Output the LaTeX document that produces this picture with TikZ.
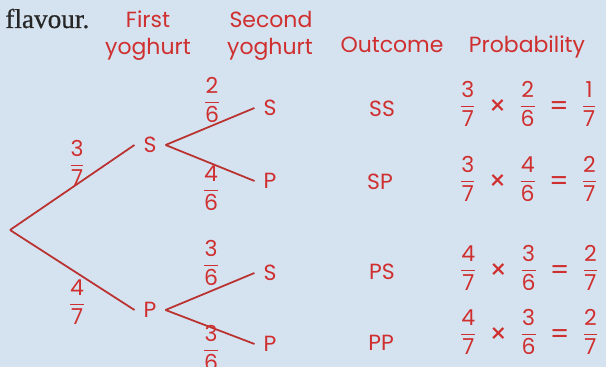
\documentclass[tikz,border=0pt]{standalone}
\usepackage{fontspec}
\setmainfont{Poppins}
\newfontfamily\bookfont[FakeBold=0.6]{Liberation Serif}
\definecolor{paper}{HTML}{D5E2F0}
\definecolor{ink}{HTML}{CF2F2E}
\definecolor{branch}{HTML}{BA3230}
\newcommand{\fr}[2]{$\displaystyle\frac{\mbox{#1}}{\mbox{#2}}$}
\newcommand{\op}[1]{\raisebox{-0.3ex}{\fontsize{15.5}{16}\selectfont #1}}
\newcommand{\prob}[3]{#1\hspace{7pt}\op{×}\hspace{7pt}#2\hspace{7pt}\op{=}\hspace{7pt}#3}

\begin{document}
\begin{tikzpicture}[x=0.02cm, y=-0.02cm,
  lbl/.style={text=ink, font=\fontsize{12.5}{15}\selectfont, inner sep=0pt},
  leaf/.style={lbl, inner sep=5pt},
  branchline/.style={draw=branch, line width=1pt}]
  % Paper
  \fill[paper] (0,0) rectangle (606,367);
  \useasboundingbox (0,0) rectangle (606,367);

  \node[anchor=base west, inner sep=0pt, text=black!85,
        font=\bookfont\fontsize{15.5}{18}\selectfont] (flav) at (5,28) {flavour.};

  % Column heads
  \node[lbl, anchor=base] (first) at (148,28) {First};
  \node[lbl, anchor=base] (firsty) at (148,55) {yoghurt};
  \node[lbl, anchor=base] (second) at (271,28) {Second};
  \node[lbl, anchor=base] (secondy) at (270,55) {yoghurt};
  \node[lbl, anchor=base] (outhead) at (392,53) {Outcome};
  \node[lbl, anchor=base] (probhead) at (527,53) {Probability};

  % Tree
  \coordinate (root) at (10,230);
  \node[leaf] (s1) at (150,145) {S};
  \node[leaf] (p1) at (150,310) {P};
  \node[leaf] (ss) at (270,108) {S};
  \node[leaf] (sp) at (270,181) {P};
  \node[leaf] (ps) at (270,273) {S};
  \node[leaf] (pp) at (270,344) {P};

  \draw[branchline] (root) -- (s1.west);
  \draw[branchline] (root) -- (p1.west);
  \draw[branchline] (s1.east) -- (ss.west);
  \draw[branchline] (s1.east) -- (sp.west);
  \draw[branchline] (p1.east) -- (ps.west);
  \draw[branchline] (p1.east) -- (pp.west);

  % Branch probabilities
  \node[lbl] (fs1) at (77,163) {\fr{3}{7}};
  \node[lbl] (fp1) at (77,302) {\fr{4}{7}};
  \node[lbl] (fss) at (212,100) {\fr{2}{6}};
  \node[lbl] (fsp) at (211,188) {\fr{4}{6}};
  \node[lbl] (fps) at (211,263) {\fr{3}{6}};
  \node[lbl] (fpp) at (211,348) {\fr{3}{6}};

  % Outcomes
  \node[lbl] (oss) at (382,109) {SS};
  \node[lbl] (osp) at (380,182) {SP};
  \node[lbl] (ops) at (382,272) {PS};
  \node[lbl] (opp) at (381,343) {PP};

  % Products
  \node[lbl, anchor=west] (rss) at (459,104) {\prob{\fr{3}{7}}{\fr{2}{6}}{\fr{1}{7}}};
  \node[lbl, anchor=west] (rsp) at (459,179) {\prob{\fr{3}{7}}{\fr{4}{6}}{\fr{2}{7}}};
  \node[lbl, anchor=west] (rps) at (459,268) {\prob{\fr{4}{7}}{\fr{3}{6}}{\fr{2}{7}}};
  \node[lbl, anchor=west] (rpp) at (459,332) {\prob{\fr{4}{7}}{\fr{3}{6}}{\fr{2}{7}}};
\end{tikzpicture}
\end{document}
